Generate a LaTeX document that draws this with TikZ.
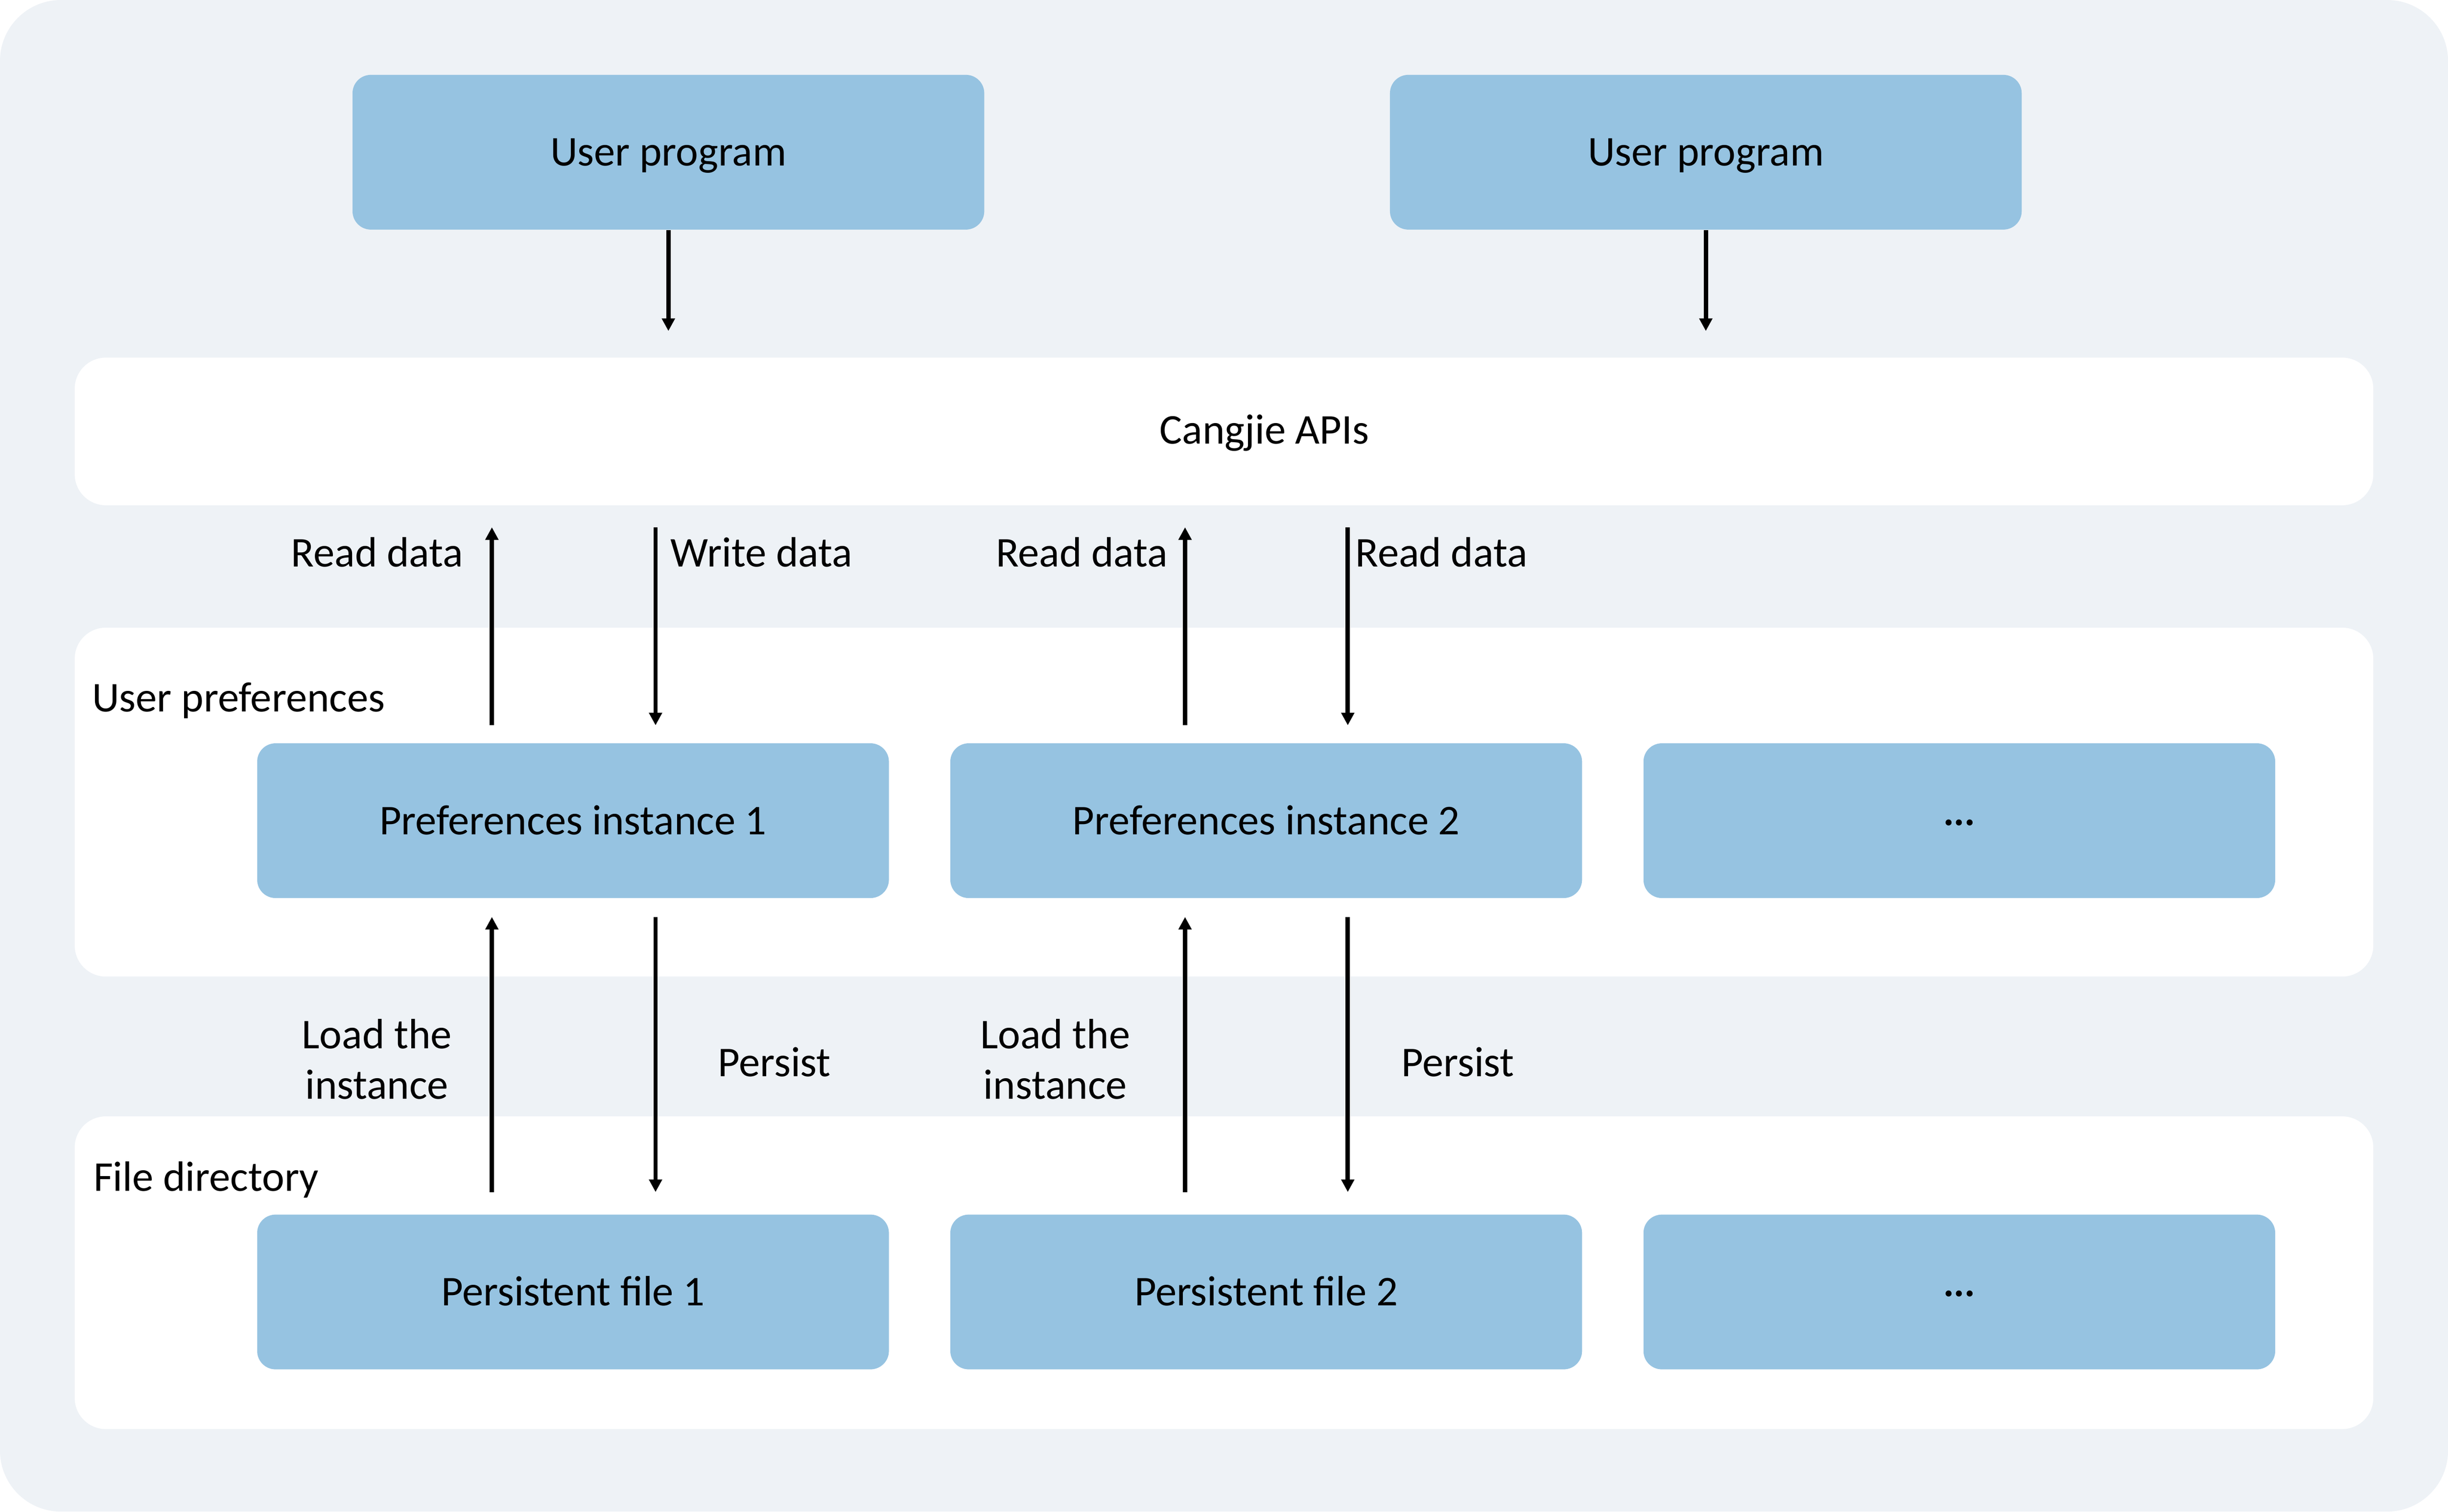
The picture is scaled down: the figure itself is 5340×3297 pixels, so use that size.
\documentclass[tikz,border=0pt]{standalone}
\usepackage{fontspec}
\setmainfont{Carlito}
\usetikzlibrary{arrows.meta}
\definecolor{bgc}{RGB}{238,242,246}
\definecolor{boxc}{RGB}{150,195,225}
\begin{document}
\begin{tikzpicture}[x=0.2pt,y=-0.2pt,
  lbl/.style={font=\fontsize{18.5}{22}\selectfont, inner sep=0pt, text=black},
  bluebox/.style={lbl, fill=boxc, rounded corners=8pt, minimum width=275.6pt, minimum height=67.5pt, text height=15pt, text depth=3pt},
  panel/.style={fill=white, rounded corners=13.6pt, inner sep=0pt, minimum width=1002.8pt},
  arr/.style={line width=1.9pt, -{Triangle[length=5.5pt,width=5.5pt]}}
]
% background
\useasboundingbox (0,0) rectangle (5340,3297);
\fill[white] (0,0) rectangle (5340,3297);
\fill[bgc, rounded corners=26.6pt] (0,0) rectangle (5340,3297);

% panels
\node[panel, minimum height=64.4pt] (api) at (2670,941) {};
\node[panel, minimum height=152.2pt] (prefs) at (2670,1749.5) {};
\node[panel, minimum height=136.4pt] (files) at (2670,2776) {};

\node[lbl, anchor=base] (apitxt) at (2758,968) {Cangjie APIs};
\node[lbl, anchor=base west] (preftxt) at (200,1552) {User preferences};
\node[lbl, anchor=base west] (filetxt) at (203,2598) {File directory};

% boxes
\node[bluebox] (up1) at (1458,332) {User program};
\node[bluebox] (up2) at (3721,332) {User program};
\node[bluebox] (pi1) at (1250,1790) {Preferences instance 1};
\node[bluebox] (pi2) at (2762,1790) {Preferences instance 2};
\node[bluebox] (pi3) at (4274,1790) {};
\node[bluebox] (pf1) at (1250,2818) {Persistent file 1};
\node[bluebox] (pf2) at (2762,2818) {Persistent file 2};
\node[bluebox] (pf3) at (4274,2818) {};
\node[lbl, anchor=center] (dots1) at ([yshift=-2.8pt]pi3.center) {\textperiodcentered\textperiodcentered\textperiodcentered};
\node[lbl, anchor=center] (dots2) at ([yshift=-2.8pt]pf3.center) {\textperiodcentered\textperiodcentered\textperiodcentered};

% coordinates for free arrow ends
\coordinate (a1) at (1458,722);
\coordinate (a2) at (3721,722);
\coordinate (r1t) at (1073,1150); \coordinate (r1b) at (1073,1582);
\coordinate (w1t) at (1430,1150); \coordinate (w1b) at (1430,1582);
\coordinate (r2t) at (2585,1150); \coordinate (r2b) at (2585,1582);
\coordinate (w2t) at (2940,1150); \coordinate (w2b) at (2940,1582);
\coordinate (l1t) at (1073,2000); \coordinate (l1b) at (1073,2600);
\coordinate (p1t) at (1430,2000); \coordinate (p1b) at (1430,2600);
\coordinate (l2t) at (2585,2000); \coordinate (l2b) at (2585,2600);
\coordinate (p2t) at (2940,2000); \coordinate (p2b) at (2940,2600);

% arrows
\draw[arr] (up1.south) -- (a1);
\draw[arr] (up2.south) -- (a2);
\draw[arr] (r1b) -- (r1t);
\draw[arr] (w1t) -- (w1b);
\draw[arr] (r2b) -- (r2t);
\draw[arr] (w2t) -- (w2b);
\draw[arr] (l1b) -- (l1t);
\draw[arr] (p1t) -- (p1b);
\draw[arr] (l2b) -- (l2t);
\draw[arr] (p2t) -- (p2b);

% arrow labels
\node[lbl, anchor=base east] (rd1) at (1011,1236) {Read data};
\node[lbl, anchor=base west] (wd1) at (1462,1236) {Write data};
\node[lbl, anchor=base east] (rd2) at (2548,1236) {Read data};
\node[lbl, anchor=base west] (rd3) at (2956,1236) {Read data};
\node[lbl, anchor=base] (ld1a) at (822,2287) {Load the};
\node[lbl, anchor=base] (ld1b) at (822,2397) {instance};
\node[lbl, anchor=base] (ps1) at (1689,2348) {Persist};
\node[lbl, anchor=base] (ld2a) at (2302,2287) {Load the};
\node[lbl, anchor=base] (ld2b) at (2302,2397) {instance};
\node[lbl, anchor=base] (ps2) at (3180,2348) {Persist};
\end{tikzpicture}
\end{document}
